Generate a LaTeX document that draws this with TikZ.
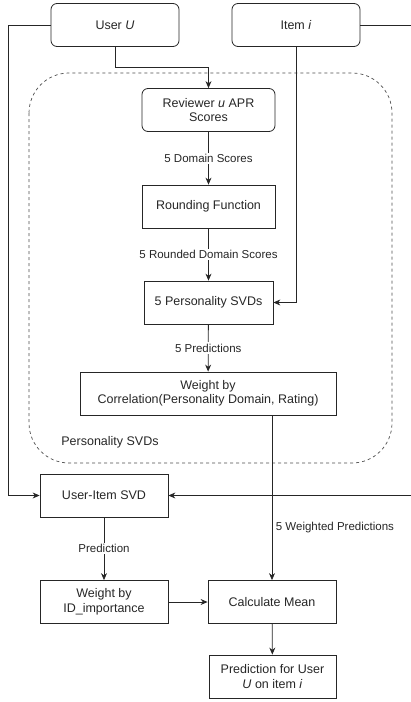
\documentclass[tikz,border=0pt]{standalone}
\usepackage{fontspec}
\setmainfont{Liberation Sans}
\usepackage{xcolor}
\usetikzlibrary{arrows.meta,positioning}

\begin{document}
\begin{tikzpicture}[
      x=1pt, y=-1pt, color=black!85,
      font=\fontsize{12.5}{14.5}\selectfont,
      box/.style={draw, align=center, inner sep=2pt, line width=0.8pt, minimum width=128pt, minimum height=43pt},
      rbox/.style={box, rounded corners=6pt},
      ar/.style={-{Stealth[length=7pt, width=6pt]}, line width=0.8pt},
      lbl/.style={font=\fontsize{11.5}{13}\selectfont, fill=white, inner sep=1.5pt}]
    \useasboundingbox (0,0) rectangle (410,702);
    % personality block
    \draw[dashed, line width=0.7pt, black!70, rounded corners=40pt] (29,73) rectangle (392,463);
    \node at (110,442) {Personality SVDs};
    \node[rbox] (user)  at (115,25)    {User \textit{U}};
    \node[rbox] (item)  at (296,25)    {Item \textit{i}};
    \node[rbox, minimum width=133pt] (rev) at (208.5,110) {Reviewer \textit{u} APR\\Scores};
    \node[box, minimum width=133pt]  (rnd) at (208.5,206.5) {Rounding Function};
    \node[box, minimum width=129pt]  (psvd) at (208.5,302.5) {5 Personality SVDs};
    \node[box, minimum width=256pt]  (wcorr) at (208,393.5) {Weight by\\Correlation(Personality Domain, Rating)};
    \node[box]  (uisvd) at (104,495.5) {User-Item SVD};
    \node[box]  (wid)   at (104,602)   {Weight by\\ID\_importance};
    \node[box]  (mean)  at (272,602)   {Calculate Mean};
    \node[box, minimum width=127pt] (pred) at (272.5,676.5) {Prediction for User\\\textit{U} on item \textit{i}};
    \coordinate (lrail) at (8,25);
    \coordinate (rrail) at (411,25);
    \coordinate (ubend) at (208.5,67);
    \draw[ar] (user.west) -- (lrail) |- (uisvd.west);
    \draw[ar] (item.east) -- (rrail) |- (uisvd.east);
    \draw[ar] (user.south) |- (ubend) -- (rev.north);
    \draw[ar] (item.south) |- (psvd.east);
    \draw[ar] (rev) -- node[lbl]{5 Domain Scores} (rnd);
    \draw[ar] (rnd) -- node[lbl]{5 Rounded Domain Scores} (psvd);
    \draw[ar] (psvd) -- node[lbl]{5 Predictions} (wcorr);
    \draw[ar] (wcorr.south -| mean.north) -- node[lbl, right, pos=0.68, xshift=2pt, fill=none]{5 Weighted Predictions} (mean.north);
    \draw[ar] (uisvd) -- node[lbl]{Prediction} (wid);
    \draw[ar] (wid) -- (mean);
    \draw[ar] (mean) -- (pred);
  \end{tikzpicture}
\end{document}
